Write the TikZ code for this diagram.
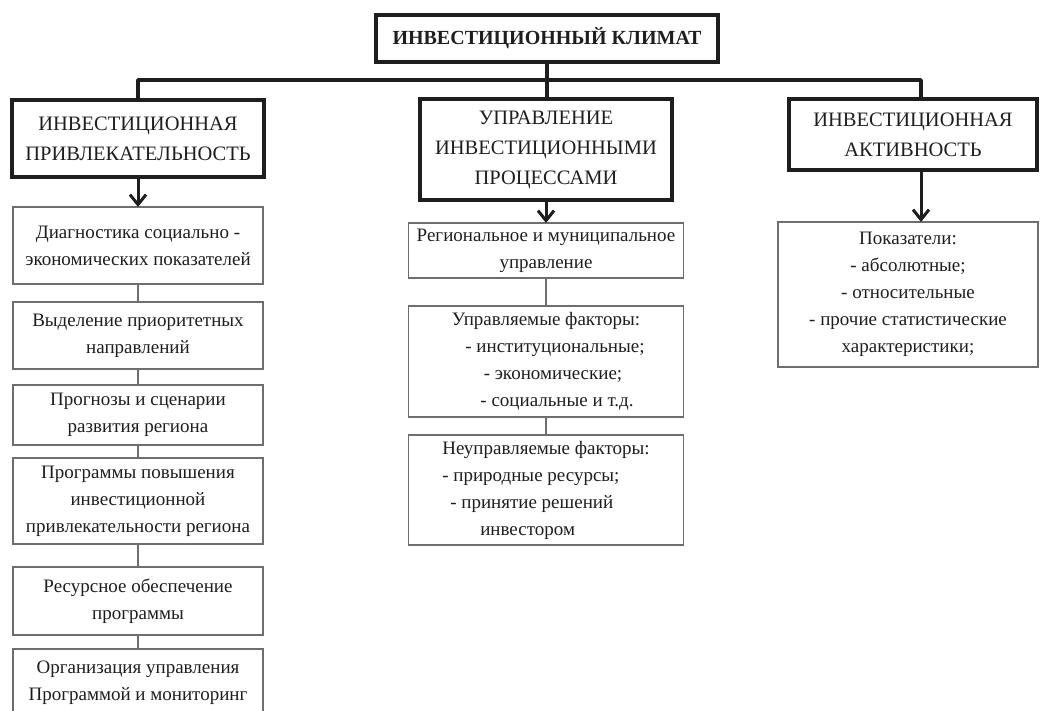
\documentclass[tikz,border=0pt]{standalone}
\usepackage{fontspec}
\setmainfont{Liberation Serif}
\usetikzlibrary{arrows.meta,positioning}
\definecolor{ink}{HTML}{1E1E1E}
\definecolor{frame}{HTML}{6E6E6E}
\tikzset{
  topbox/.style={draw=ink, line width=3.5pt, inner sep=0pt, outer sep=0pt, align=center, text=ink,
                 font=\fontsize{20}{24}\selectfont\bfseries},
  headbox/.style={draw=ink, line width=3.5pt, inner sep=0pt, outer sep=0pt, align=center, text=ink,
                  font=\fontsize{20.5}{30}\selectfont, minimum width=252pt},
  itembox/.style={draw=frame, line width=1.6pt, inner sep=0pt, outer sep=0pt, align=center, text=ink,
                  font=\fontsize{19}{27}\selectfont},
  bus/.style={draw=ink, line width=3.5pt, line join=round},
  ar/.style={-{Straight Barb[length=10pt,width=16pt]}, draw=ink, line width=3pt},
  link/.style={draw=frame, line width=1.6pt}
}

\begin{document}
\begin{tikzpicture}[x=1pt,y=-1pt]
  \useasboundingbox (0,0) rectangle (1040,711);
  % verkhnii uroven'
  \node[topbox, minimum width=342pt, minimum height=47pt] (clim) at (547,38.5) {ИНВЕСТИЦИОННЫЙ КЛИМАТ};
  \node[headbox, minimum height=77pt] (attr) at (138,138.5) {ИНВЕСТИЦИОННАЯ\\ПРИВЛЕКАТЕЛЬНОСТЬ};
  \node[headbox, minimum height=101pt] (mgmt) at (546,149.5) {УПРАВЛЕНИЕ\\ИНВЕСТИЦИОННЫМИ\\ПРОЦЕССАМИ};
  \node[headbox, minimum width=248pt, minimum height=71pt] (act) at (913,134.5) {ИНВЕСТИЦИОННАЯ\\АКТИВНОСТЬ};

  % levaya kolonka
  \node[itembox, minimum width=250pt, minimum height=77pt, below=30pt of attr] (diag) {Диагностика социально -\\экономических показателей};
  \node[itembox, minimum width=250pt, minimum height=67pt, below=18pt of diag] (prio) {Выделение приоритетных\\направлений};
  \node[itembox, minimum width=250pt, minimum height=60pt, below=16pt of prio] (fcst) {Прогнозы и сценарии\\развития региона};
  \node[itembox, minimum width=250pt, minimum height=86pt, below=13pt of fcst] (prog) {Программы повышения\\инвестиционной\\привлекательности региона};
  \node[itembox, minimum width=250pt, minimum height=68pt, below=23pt of prog] (res) {Ресурсное обеспечение\\программы};
  \node[itembox, minimum width=250pt, minimum height=68pt, below=14pt of res] (mon) {Организация управления\\Программой и мониторинг};

  % srednyaya kolonka
  \node[itembox, minimum width=275pt, minimum height=55pt, below=23pt of mgmt] (reg) {Региональное и муниципальное\\управление};
  \node[itembox, minimum width=275pt, minimum height=111pt, below=28pt of reg] (ctrl) {Управляемые факторы:\\\hspace*{18pt}- институциональные;\\\hspace*{14pt}- экономические;\\\hspace*{22pt}- социальные и т.д.};
  \node[itembox, minimum width=275pt, minimum height=110pt, below=18pt of ctrl, align=left] (unctl) {Неуправляемые факторы:\\- природные ресурсы;\\\hspace*{8pt}- принятие решений\\\hspace*{38pt}инвестором};

  % pravaya kolonka
  \node[itembox, minimum width=260pt, minimum height=145pt, below=52pt of act, xshift=-5pt] (ind) {Показатели:\\- абсолютные;\\- относительные\\- прочие статистические\\характеристики;};

  % svyazi
  \draw[bus] (attr.north) -- ++(0,-20) -| ([xshift=8pt]act.north);
  \draw[bus] (clim.south) -- (clim.south |- mgmt.north);
  \draw[ar] (attr.south) -- (diag.north);
  \draw[ar] (mgmt.south) -- (reg.north);
  \draw[ar] ([xshift=8pt]act.south) -- ([xshift=8pt]act.south |- ind.north);
  \foreach \a/\b in {diag/prio,prio/fcst,fcst/prog,prog/res,res/mon,reg/ctrl,ctrl/unctl}
    \draw[link] (\a) -- (\b);
\end{tikzpicture}
\end{document}
